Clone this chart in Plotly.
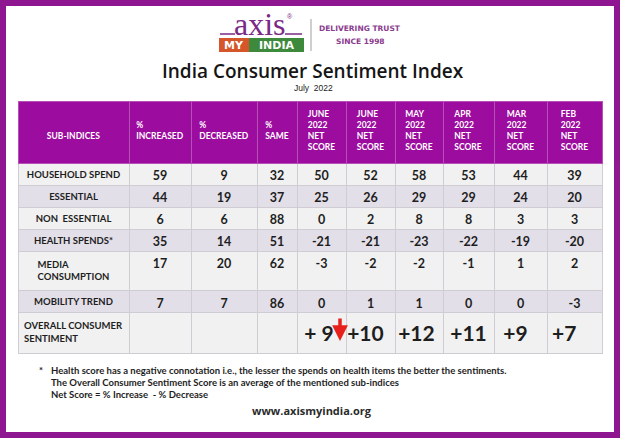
import plotly.graph_objects as go

W, H = 620, 438

# ---------------- data ----------------
header_labels = [
    "SUB-INDICES",
    "%<br>INCREASED",
    "%<br>DECREASED",
    "%<br>SAME",
    "JUNE<br>2022<br>NET<br>SCORE",
    "JUNE<br>2022<br>NET<br>SCORE",
    "MAY<br>2022<br>NET<br>SCORE",
    "APR<br>2022<br>NET<br>SCORE",
    "MAR<br>2022<br>NET<br>SCORE",
    "FEB<br>2022<br>NET<br>SCORE",
]
sub_indices = [
    "HOUSEHOLD SPEND",
    "ESSENTIAL",
    "NON  ESSENTIAL",
    "HEALTH SPENDS*",
    "MEDIA<br>CONSUMPTION",
    "MOBILITY TREND",
    "OVERALL CONSUMER<br>SENTIMENT",
]
pct_increased = [59, 44, 6, 35, 17, 7]
pct_decreased = [9, 19, 6, 14, 20, 7]
pct_same = [32, 37, 88, 51, 62, 86]
net_june_2022_a = [50, 25, 0, -21, -3, 0]
net_june_2022_b = [52, 26, 2, -21, -2, 1]
net_may_2022 = [58, 29, 8, -23, -2, 1]
net_apr_2022 = [53, 29, 8, -22, -1, 0]
net_mar_2022 = [44, 24, 3, -19, 1, 0]
net_feb_2022 = [39, 20, 3, -20, 2, -3]
overall_scores = ["+ 9", "+10", "+12", "+11", "+9", "+7"]

footnotes = [
    "Health score has a negative connotation i.e., the lesser the spends on health items the better the sentiments.",
    "The Overall Consumer Sentiment Score is an average of the mentioned sub-indices",
    "Net Score = % Increase  - % Decrease",
]

# ---------------- styling ----------------
PURPLE_FRAME = "#8E1690"
PURPLE_HEAD = "#9C0C9E"
ROW_A = "#F1F1F1"
ROW_B = "#E3DFE9"
GRID = "#CFCDD3"
TXT = "#1E1E1E"
FONT = "Lato"
NB = "\u00a0"
overall_pad = [1, 2, 1, 0, 2, 4]   # trailing spaces to mimic left-ish alignment

px = lambda x: x / W
py = lambda y: 1 - y / H

pct_cols = [pct_increased, pct_decreased, pct_same]
net_cols = [net_june_2022_a, net_june_2022_b, net_may_2022, net_apr_2022, net_mar_2022, net_feb_2022]

values = [[s.replace(" ", NB) for s in sub_indices]]
for c in pct_cols:
    values.append([str(v) for v in c] + [""])
for c, o, p in zip(net_cols, overall_scores, overall_pad):
    big = '<span style="font-size:21px">' + o.replace(" ", NB) + NB * p + "</span><br>"
    values.append([str(v) for v in c] + [big])

n_rows = len(sub_indices)
row_fill = [ROW_A if i % 2 == 0 else ROW_B for i in range(n_rows)]
row_fill[-1] = ROW_A
fills = [row_fill for _ in values]

sizes = [9.5] + [12.5] * (len(values) - 1)
col_widths = [111, 62, 66, 40, 49, 49, 48, 51, 53, 55]

def vpad(lbl):
    n = lbl.count("<br>") + 1
    if n == 1:
        return NB + "<br>" + NB + "<br>" + lbl
    if n == 2:
        return NB + "<br>" + lbl
    return lbl

fig = go.Figure()
fig.add_trace(go.Table(
    domain=dict(x=[px(18), px(602)], y=[py(380), py(101)]),
    columnwidth=col_widths,
    header=dict(
        values=[vpad(h) for h in header_labels],
        fill_color=PURPLE_HEAD,
        line=dict(color="#B550B7", width=1),
        font=dict(family=FONT, size=8.5, color="white", weight="bold"),
        align="center",
        height=62,
    ),
    cells=dict(
        values=values,
        fill_color=fills,
        line=dict(color=GRID, width=1),
        font=dict(family=FONT, size=sizes, color=TXT, weight="bold"),
        align="center",
        height=22,
    ),
))

shapes = []
annotations = []

def note(text, x, y, size, color, family=FONT, weight="normal", xanchor="center"):
    annotations.append(dict(text=text, x=px(x), y=py(y), xref="paper", yref="paper", showarrow=False,
                            xanchor=xanchor, yanchor="middle",
                            font=dict(family=family, size=size, color=color, weight=weight)))

# outer frame
shapes.append(dict(type="rect", xref="paper", yref="paper", x0=px(3), x1=px(617), y0=py(435), y1=py(3),
                   line=dict(color=PURPLE_FRAME, width=6), fillcolor="white", layer="below"))

# logo
LOGO_PURPLE = "#7A2A86"
note("axis", 260, 24, 32, LOGO_PURPLE, family="Liberation Serif")
note("®", 290, 16, 7, LOGO_PURPLE, family="Liberation Sans")
for x0, x1 in [(220, 235), (285, 302)]:
    shapes.append(dict(type="line", xref="paper", yref="paper", x0=px(x0), x1=px(x1), y0=py(34), y1=py(34),
                       line=dict(color=LOGO_PURPLE, width=1.5)))
shapes.append(dict(type="rect", xref="paper", yref="paper", x0=px(219), x1=px(249), y0=py(52), y1=py(38),
                   fillcolor="#D4562A", line=dict(width=0)))
shapes.append(dict(type="rect", xref="paper", yref="paper", x0=px(249), x1=px(304), y0=py(52), y1=py(38),
                   fillcolor="#3E8A3C", line=dict(width=0)))
note("MY", 234, 45.5, 11, "white", family="DejaVu Sans", weight="bold")
note("INDIA", 276.5, 45.5, 11, "white", family="DejaVu Sans", weight="bold")
shapes.append(dict(type="line", xref="paper", yref="paper", x0=px(311), x1=px(311), y0=py(19), y1=py(51),
                   line=dict(color="#A0A0A0", width=1)))
note("DELIVERING TRUST", 360, 29, 7.5, "#8A3C8E", family="DejaVu Sans", weight="bold")
note("SINCE 1998", 360, 41.5, 7.5, "#8A3C8E", family="DejaVu Sans", weight="bold")

# title
note("India Consumer Sentiment Index", 313, 71, 19, "#151515", family="Open Sans", weight=600)
note("July  2022", 313, 88, 8.5, "#222222", family="Liberation Sans")

# red arrow next to "+ 9"
annotations.append(dict(text="", x=px(340), y=py(341), ax=0, ay=-24, xref="paper", yref="paper",
                        showarrow=True, arrowhead=2, arrowsize=0.9, arrowwidth=3.5, arrowcolor="#E8201C"))

# footnotes
note("*", 41, 370, 9.5, TXT, weight="bold")
for i, t in enumerate(footnotes):
    note(t, 49, 370 + 12 * i, 9.5, TXT, weight="bold", xanchor="left")
note("www.axismyindia.org", 312, 410, 11, "#2A2A2A", family="Open Sans", weight="bold")

fig.update_layout(
    width=W, height=H,
    margin=dict(l=0, r=0, t=0, b=0),
    paper_bgcolor="white",
    plot_bgcolor="white",
    shapes=shapes,
    annotations=annotations,
)

fig.write_html("out.html", config={"displayModeBar": False},
               post_script="document.body.style.margin='0';")
